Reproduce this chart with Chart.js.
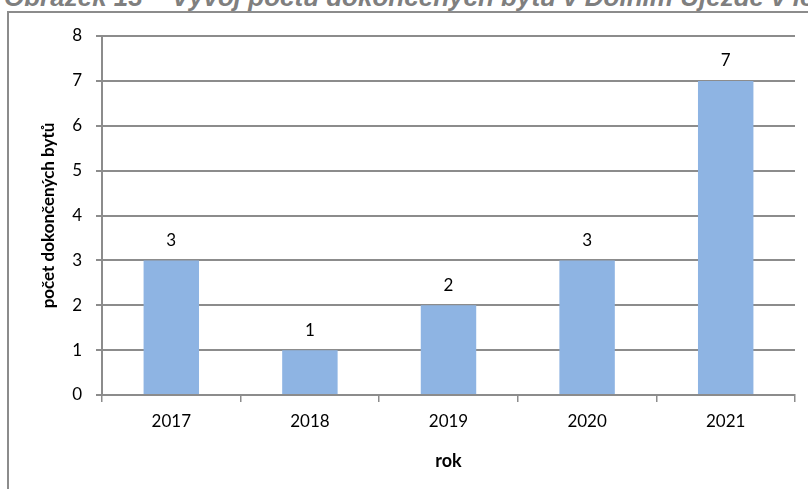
<!DOCTYPE html>
<html><head><meta charset="utf-8">
<script src="https://cdn.jsdelivr.net/npm/chart.js@4"></script>
<style>
html,body{margin:0;padding:0;background:#fff;overflow:hidden;width:808px;height:489px;position:relative}
#title{position:absolute;left:4px;top:-18px;white-space:nowrap;font:italic bold 26px "Liberation Sans",Arial,sans-serif;color:#7f7f7f}
#frame{position:absolute;left:7px;top:11px;width:830px;height:520px;border:2px solid #8c8c8c;box-sizing:border-box}
#wrap{position:absolute;left:0;top:0;width:808px;height:489px}
</style></head>
<body>
<div id="title">Obrázek 13 – Vývoj počtu dokončených bytů v Dolním Újezdě v letech 2017–2021</div>
<div id="frame"></div>
<div id="wrap"><canvas id="c" width="808" height="489"></canvas></div>
<script>
const years = ["2017","2018","2019","2020","2021"];
const flats = [3,1,2,3,7];
const yTicks = [0,1,2,3,4,5,6,7,8];
const yTitle = "počet dokončených bytů";
const xTitle = "rok";

const valueLabels = {
  id:'valueLabels',
  afterDatasetsDraw(chart){
    const ctx = chart.ctx;
    const meta = chart.getDatasetMeta(0);
    ctx.save();
    ctx.font = '17px Lato, "Open Sans", sans-serif';
    ctx.fillStyle = '#000';
    ctx.textAlign = 'center';
    ctx.textBaseline = 'middle';
    meta.data.forEach((bar,i)=>{
      ctx.fillText(String(chart.data.datasets[0].data[i]), bar.x, bar.y - 20);
    });
    ctx.restore();
  }
};

new Chart(document.getElementById('c'), {
  type:'bar',
  data:{labels:years, datasets:[{data:flats, backgroundColor:'#8EB4E3', borderWidth:0, barPercentage:0.4, categoryPercentage:1}]},
  options:{
    responsive:false, animation:false, devicePixelRatio:1,
    layout:{padding:{top:36,right:13,left:38,bottom:0}},
    plugins:{legend:{display:false}, tooltip:{enabled:false}, title:{display:false}},
    scales:{
      x:{
        grid:{display:true, drawOnChartArea:false, drawTicks:true, tickLength:7, color:'#8c8c8c', lineWidth:1.5, offset:true},
        border:{display:true, color:'#8c8c8c', width:2},
        ticks:{color:'#000', font:{family:'Lato, "Open Sans", sans-serif', size:17}, padding:9},
        title:{display:true, text:xTitle, color:'#000', font:{family:'Lato, "Open Sans", sans-serif', size:18, weight:'bold'}, padding:{top:10,bottom:17}},
        afterFit(s){ s.height = 489 - 395; }
      },
      y:{
        min:0, max:8,
        afterBuildTicks(s){ s.ticks = yTicks.map(v=>({value:v})); },
        grid:{color:'#8c8c8c', lineWidth:2, tickLength:6, drawTicks:true},
        border:{display:true, color:'#8c8c8c', width:2},
        ticks:{color:'#000', font:{family:'Lato, "Open Sans", sans-serif', size:17}, padding:14},
        title:{display:true, text:yTitle, color:'#000', font:{family:'Lato, "Open Sans", sans-serif', size:17, weight:'bold'}, padding:{top:0,bottom:0}},
        afterFit(s){ s.width = 64; }
      }
    }
  },
  plugins:[valueLabels]
});
</script>
</body></html>
